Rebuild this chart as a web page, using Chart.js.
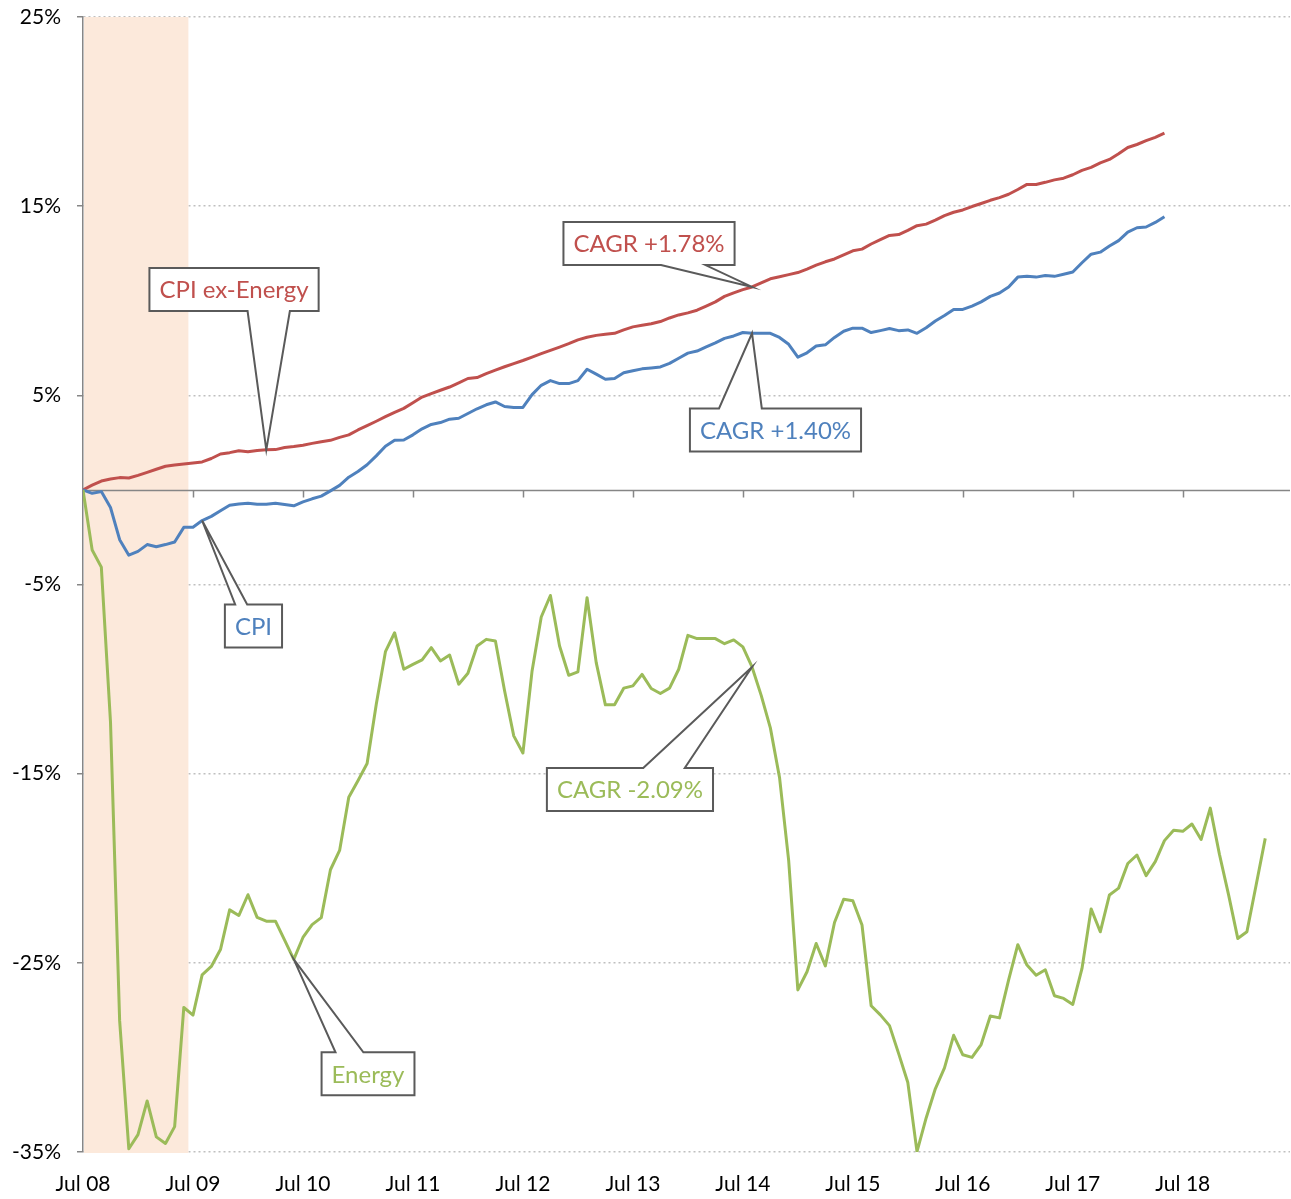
<!DOCTYPE html>
<html>
<head>
<meta charset="utf-8">
<script src="https://cdn.jsdelivr.net/npm/chart.js@4.4.1/dist/chart.umd.min.js"></script>
<style>
  html, body { margin: 0; padding: 0; background: #ffffff; }
  #wrap { width: 1291px; height: 1199px; position: relative; }
</style>
</head>
<body>
<div id="wrap"><canvas id="c"></canvas></div>
<script>
// ---- Data (month index 0 = Jul 08) ----
const tickLabels = ['Jul 08','Jul 09','Jul 10','Jul 11','Jul 12','Jul 13','Jul 14','Jul 15','Jul 16','Jul 17','Jul 18'];

const cpi = [
  0, -0.18, -0.09, -0.93, -2.63, -3.45, -3.25, -2.89, -3.0, -2.89, -2.75, -1.98,
  -1.97, -1.62, -1.4, -1.1, -0.81, -0.74, -0.7, -0.76, -0.76, -0.7, -0.77, -0.84,
  -0.63, -0.47, -0.33, -0.05, 0.24, 0.67, 0.97, 1.33, 1.8, 2.31, 2.62, 2.64,
  2.91, 3.23, 3.46, 3.56, 3.74, 3.79, 4.04, 4.29, 4.5, 4.65, 4.41, 4.36,
  4.36, 5.04, 5.53, 5.78, 5.62, 5.62, 5.78, 6.38, 6.12, 5.85, 5.89, 6.19,
  6.3, 6.4, 6.45, 6.5, 6.69, 6.96, 7.23, 7.34, 7.56, 7.77, 8.01, 8.14,
  8.32, 8.28, 8.28, 8.28, 8.06, 7.7, 7.02, 7.25, 7.61, 7.67, 8.06, 8.39,
  8.55, 8.55, 8.32, 8.42, 8.53, 8.42, 8.46, 8.28, 8.57, 8.93, 9.22, 9.54,
  9.54, 9.72, 9.94, 10.23, 10.41, 10.73, 11.25, 11.29, 11.25, 11.34, 11.29, 11.4,
  11.52, 12.01, 12.46, 12.57, 12.89, 13.18, 13.63, 13.86, 13.9, 14.14, 14.44
];

const cpiExEnergy = [
  0, 0.25, 0.47, 0.58, 0.65, 0.63, 0.77, 0.93, 1.09, 1.25, 1.32, 1.37,
  1.42, 1.48, 1.66, 1.9, 1.97, 2.07, 2.02, 2.08, 2.12, 2.13, 2.24, 2.29,
  2.36, 2.46, 2.55, 2.62, 2.78, 2.91, 3.17, 3.4, 3.63, 3.87, 4.1, 4.31,
  4.61, 4.91, 5.09, 5.27, 5.44, 5.66, 5.89, 5.94, 6.15, 6.33, 6.51, 6.68,
  6.84, 7.02, 7.2, 7.38, 7.55, 7.73, 7.93, 8.07, 8.17, 8.23, 8.28, 8.46,
  8.62, 8.7, 8.78, 8.9, 9.09, 9.25, 9.36, 9.5, 9.72, 9.94, 10.23, 10.42,
  10.59, 10.73, 10.95, 11.16, 11.27, 11.38, 11.49, 11.67, 11.88, 12.06, 12.21, 12.42,
  12.64, 12.73, 13.0, 13.23, 13.45, 13.5, 13.72, 13.97, 14.05, 14.26, 14.5, 14.68,
  14.8, 14.98, 15.14, 15.31, 15.45, 15.63, 15.88, 16.15, 16.15, 16.26, 16.39, 16.48,
  16.66, 16.89, 17.05, 17.29, 17.47, 17.77, 18.1, 18.26, 18.46, 18.64, 18.86
];

const energy = [
  0, -3.18, -4.08, -12.26, -28.07, -34.83, -34.08, -32.3, -34.2, -34.55, -33.66, -27.36,
  -27.76, -25.64, -25.19, -24.3, -22.2, -22.5, -21.4, -22.6, -22.8, -22.8, -23.8, -24.82,
  -23.66, -22.98, -22.61, -20.08, -19.06, -16.25, -15.37, -14.46, -11.33, -8.55, -7.55, -9.48,
  -9.22, -8.99, -8.34, -9.04, -8.73, -10.27, -9.69, -8.25, -7.9, -7.99, -10.62, -13.0,
  -13.91, -9.57, -6.72, -5.58, -8.25, -9.8, -9.62, -5.7, -9.13, -11.36, -11.36, -10.48,
  -10.36, -9.75, -10.5, -10.76, -10.48, -9.48, -7.69, -7.86, -7.86, -7.86, -8.13, -7.93,
  -8.3, -9.36, -10.86, -12.58, -15.2, -19.6, -26.43, -25.47, -23.98, -25.16, -22.87, -21.64,
  -21.72, -23.0, -27.27, -27.75, -28.32, -29.8, -31.33, -34.98, -33.2, -31.66, -30.55, -28.83,
  -29.86, -30.0, -29.32, -27.81, -27.91, -25.9, -24.04, -25.12, -25.66, -25.37, -26.74, -26.88,
  -27.2, -25.31, -22.15, -23.36, -21.41, -21.05, -19.75, -19.3, -20.39, -19.65, -18.54, -17.99,
  -18.05, -17.66, -18.48, -16.82, -19.26, -21.41, -23.71, -23.36, -20.9, -18.42
];

const recession = [0, 11.5];   // shaded period, in months from Jul 08
const xMax = 131.7;            // right end of the category axis (months)
const yTicks = [-35, -25, -15, -5, 5, 15, 25];

const COLORS = { cpi: '#4F81BD', cpiExEnergy: '#C0504D', energy: '#9BBB59' };
const seriesMap = { cpi, cpiExEnergy, energy };

// Callouts: anchor = series point, box centre in data units
const callouts = [
  { text: 'CPI ex-Energy', series: 'cpiExEnergy', idx: 20, bx: 16.48, by: 10.59, edge: 'bottom', f: [0.58, 0.83] },
  { text: 'CAGR +1.78%',   series: 'cpiExEnergy', idx: 73, bx: 61.76, by: 13.02, edge: 'bottom', f: [0.57, 0.83] },
  { text: 'CAGR +1.40%',   series: 'cpi',         idx: 73, bx: 75.56, by: 3.17,  edge: 'top',    f: [0.17, 0.42] },
  { text: 'CPI',           series: 'cpi',         idx: 13, bx: 18.6,  by: -7.19, edge: 'top',    f: [0.18, 0.39] },
  { text: 'CAGR -2.09%',   series: 'energy',      idx: 73, bx: 59.68, by: -15.84, edge: 'top',   f: [0.58, 0.83] },
  { text: 'Energy',        series: 'energy',      idx: 23, bx: 31.1,  by: -30.87, edge: 'top',   f: [0.15, 0.45] }
];

const toXY = arr => arr.map((v, i) => ({ x: i, y: v }));

const FONT = 'Lato, "Open Sans", sans-serif';

const decor = {
  id: 'decor',
  beforeDatasetsDraw(chart) {
    const { ctx, chartArea: a, scales: { x, y } } = chart;
    ctx.save();
    // recession shading
    const x0 = x.getPixelForValue(recession[0]) + 1;
    const x1 = x.getPixelForValue(recession[1]);
    ctx.fillStyle = '#FCE9DB';
    ctx.fillRect(x0, a.top, x1 - x0, a.bottom - a.top + 1);
    // zero axis line with tick marks below
    const yz = Math.round(y.getPixelForValue(0)) + 0.5;
    ctx.strokeStyle = '#868686';
    ctx.lineWidth = 1.5;
    ctx.beginPath();
    ctx.moveTo(a.left, yz);
    ctx.lineTo(a.right, yz);
    for (let i = 1; i < tickLabels.length; i++) {
      const tx = Math.round(x.getPixelForValue(i * 12)) + 0.5;
      ctx.moveTo(tx, yz);
      ctx.lineTo(tx, yz + 7);
    }
    ctx.stroke();
    ctx.restore();
  },
  afterDatasetsDraw(chart) {
    const { ctx, scales: { x, y } } = chart;
    ctx.save();
    ctx.font = '24px ' + FONT;
    callouts.forEach(c => {
      const data = seriesMap[c.series];
      const tx = x.getPixelForValue(c.idx);
      const ty = y.getPixelForValue(data[c.idx]);
      const cx = x.getPixelForValue(c.bx);
      const cy = y.getPixelForValue(c.by);
      const w = ctx.measureText(c.text).width + 20;
      const h = 43;
      const L = cx - w / 2, R = cx + w / 2, T = cy - h / 2, B = cy + h / 2;
      const b1 = L + c.f[0] * w, b2 = L + c.f[1] * w;
      ctx.beginPath();
      if (c.edge === 'bottom') {
        ctx.moveTo(L, T); ctx.lineTo(R, T); ctx.lineTo(R, B);
        ctx.lineTo(b2, B); ctx.lineTo(tx, ty); ctx.lineTo(b1, B);
        ctx.lineTo(L, B); ctx.closePath();
      } else {
        ctx.moveTo(L, T); ctx.lineTo(b1, T); ctx.lineTo(tx, ty); ctx.lineTo(b2, T);
        ctx.lineTo(R, T); ctx.lineTo(R, B); ctx.lineTo(L, B); ctx.closePath();
      }
      ctx.fillStyle = '#ffffff';
      ctx.fill();
      ctx.strokeStyle = '#5A5A5A';
      ctx.lineWidth = 2;
      ctx.lineJoin = 'miter';
      ctx.stroke();
      ctx.fillStyle = COLORS[c.series];
      ctx.textAlign = 'center';
      ctx.textBaseline = 'middle';
      ctx.fillText(c.text, cx, cy + 1);
    });
    ctx.restore();
  }
};

const ds = (label, arr, color) => ({
  label, data: toXY(arr), borderColor: color, backgroundColor: color,
  borderWidth: 3, pointRadius: 0, tension: 0, fill: false, borderJoinStyle: 'round'
});

new Chart(document.getElementById('c'), {
  type: 'line',
  data: {
    datasets: [
      ds('Energy', energy, COLORS.energy),
      ds('CPI', cpi, COLORS.cpi),
      ds('CPI ex-Energy', cpiExEnergy, COLORS.cpiExEnergy)
    ]
  },
  options: {
    responsive: true,
    maintainAspectRatio: false,
    animation: false,
    events: [],
    layout: { padding: { top: 17, right: 1, left: 0, bottom: 0 } },
    plugins: { legend: { display: false }, tooltip: { enabled: false } },
    scales: {
      x: {
        type: 'linear',
        min: 0,
        max: xMax,
        grid: { display: false, drawTicks: false },
        border: { display: false },
        afterBuildTicks: s => { s.ticks = tickLabels.map((t, i) => ({ value: i * 12 })); },
        afterFit: s => { s.height = 47; },
        ticks: {
          autoSkip: false, maxRotation: 0, padding: 20,
          color: '#000000', font: { family: FONT, size: 21 },
          callback: v => tickLabels[Math.round(v / 12)]
        }
      },
      y: {
        min: -35,
        max: 25,
        afterBuildTicks: s => { s.ticks = yTicks.map(v => ({ value: v })); },
        afterFit: s => { s.width = 83; s.paddingTop = 0; s.paddingBottom = 0; },
        grid: {
          color: '#BFBFBF', lineWidth: 1.5, tickLength: 6,
          tickColor: '#868686', tickWidth: 1.5, tickBorderDash: []
        },
        border: { display: true, color: '#868686', width: 1.5, dash: [2, 3] },
        ticks: {
          padding: 16, color: '#000000', font: { family: FONT, size: 21 },
          callback: v => v + '%'
        }
      }
    }
  },
  plugins: [decor]
});
</script>
</body>
</html>
